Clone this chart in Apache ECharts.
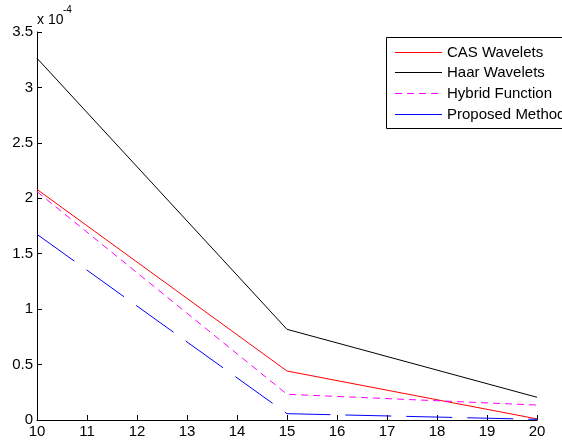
<!DOCTYPE html>
<html>
<head>
<meta charset="utf-8">
<script src="https://cdn.jsdelivr.net/npm/echarts@6/dist/echarts.min.js"></script>
<style>
html,body{margin:0;padding:0;background:#fff;}
#c{width:562px;height:440px;}
</style>
</head>
<body>
<div id="c"></div>
<script>
var xValues = [10, 15, 20];
var casWavelets = [2.08, 0.442, 0.01];
var haarWavelets = [3.263, 0.818, 0.205];
var hybridFunction = [2.06, 0.232, 0.135];
var proposedMethod = [1.675, 0.057, 0.006];
var seriesNames = ['CAS Wavelets', 'Haar Wavelets', 'Hybrid Function', 'Proposed Method'];

function pairs(ys) { return xValues.map(function (x, i) { return [x, ys[i]]; }); }

var font = 'Liberation Sans, Arial, sans-serif';

// Legend (drawn as graphics, no data marks)
var legendStyles = [
  {stroke: '#ff0000', lineDash: null},
  {stroke: '#000000', lineDash: null},
  {stroke: '#ff00ff', lineDash: [7, 5]},
  {stroke: '#0000ff', lineDash: null}
];
var legendRowY = [52.5, 72.5, 93.5, 114.5];
var legendGraphics = [{
  type: 'rect', z: 100,
  shape: {x: 386.5, y: 37.5, width: 220, height: 91},
  style: {fill: '#fff', stroke: '#000', lineWidth: 1}
}];
seriesNames.forEach(function (n, i) {
  legendGraphics.push({
    type: 'line', z: 101,
    shape: {x1: 395, y1: legendRowY[i], x2: 442, y2: legendRowY[i]},
    style: {stroke: legendStyles[i].stroke, lineWidth: 1, lineDash: legendStyles[i].lineDash}
  });
  legendGraphics.push({
    type: 'text', z: 101, x: 447, y: legendRowY[i] + 0.5,
    style: {text: n, fill: '#000', fontSize: 15, fontFamily: font, verticalAlign: 'middle', align: 'left'}
  });
});
legendGraphics.push({
  type: 'text', x: 37, y: 27,
  style: {text: 'x 10', fill: '#000', fontSize: 14, fontFamily: font, verticalAlign: 'bottom', align: 'left'}
});
legendGraphics.push({
  type: 'text', x: 63, y: 15,
  style: {text: '-4', fill: '#000', fontSize: 10, fontFamily: font, verticalAlign: 'bottom', align: 'left'}
});

var chart = echarts.init(document.getElementById('c'), null, {renderer: 'canvas'});
chart.setOption({
  animation: false,
  backgroundColor: '#fff',
  grid: {left: 37, top: 32, right: 25, bottom: 20, containLabel: false},
  xAxis: {
    type: 'value', min: 10, max: 20, interval: 1,
    axisLine: {lineStyle: {color: '#000', width: 1}},
    axisTick: {inside: true, length: 5, lineStyle: {color: '#000'}},
    axisLabel: {color: '#000', fontSize: 15, fontFamily: font, margin: 4},
    splitLine: {show: false}
  },
  yAxis: {
    type: 'value', min: 0, max: 3.5, interval: 0.5,
    axisLine: {show: true, lineStyle: {color: '#000', width: 1}},
    axisTick: {show: true, inside: true, length: 5, lineStyle: {color: '#000'}},
    axisLabel: {color: '#000', fontSize: 15, fontFamily: font, margin: 4},
    splitLine: {show: false}
  },
  graphic: legendGraphics,
  series: [
    {name: seriesNames[0], type: 'line', data: pairs(casWavelets), symbol: 'none',
     lineStyle: {color: '#ff0000', width: 1}, itemStyle: {color: '#ff0000'}},
    {name: seriesNames[1], type: 'line', data: pairs(haarWavelets), symbol: 'none',
     lineStyle: {color: '#000000', width: 1}, itemStyle: {color: '#000000'}},
    {name: seriesNames[2], type: 'line', data: pairs(hybridFunction), symbol: 'none',
     lineStyle: {color: '#ff00ff', width: 1, type: [7, 5]}, itemStyle: {color: '#ff00ff'}},
    {name: seriesNames[3], type: 'line', data: pairs(proposedMethod), symbol: 'none',
     lineStyle: {color: '#0000ff', width: 1, type: [46, 15]}, itemStyle: {color: '#0000ff'}}
  ]
});
</script>
</body>
</html>
